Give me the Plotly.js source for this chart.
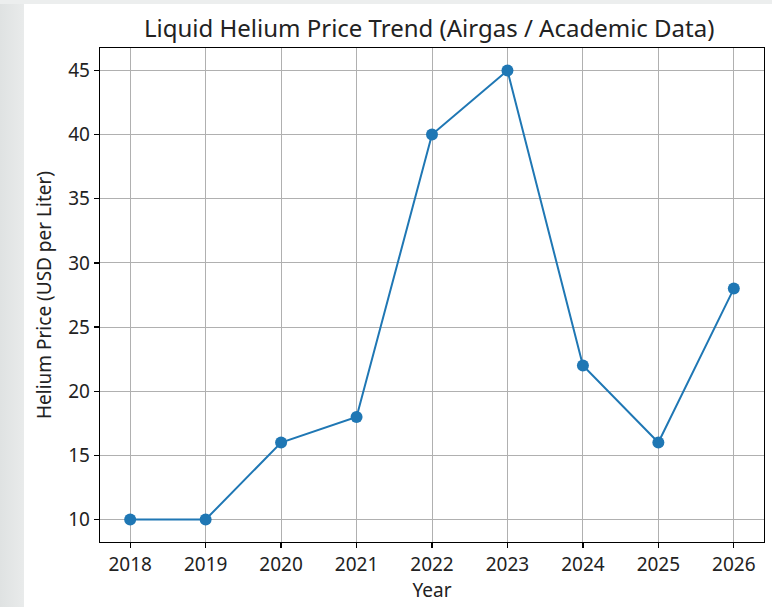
<!DOCTYPE html>
<html>
<head>
<meta charset="utf-8">
<script src="https://cdn.plot.ly/plotly-3.0.1.min.js"></script>
<style>
html,body{margin:0;padding:0;width:772px;height:607px;overflow:hidden;}
body{background:linear-gradient(to right,#dfe2e2 0px,#e9ebeb 24px,#eceeee 100%);}
#top{position:absolute;left:0;top:0;width:772px;height:4px;background:#eceeee;}
#chart{position:absolute;left:24px;top:4px;width:748px;height:603px;background:#fff;}
</style>
</head>
<body>
<div id="top"></div>
<div id="chart"></div>
<script>
const years = [2018, 2019, 2020, 2021, 2022, 2023, 2024, 2025, 2026];
const prices = [10, 10, 16, 18, 40, 45, 22, 16, 28];
const xTickVals = [2018, 2019, 2020, 2021, 2022, 2023, 2024, 2025, 2026];
const yTickVals = [10, 15, 20, 25, 30, 35, 40, 45];

const font = "'Noto Sans', sans-serif";
const trace = {
  x: years, y: prices, type: 'scatter', mode: 'lines+markers',
  line: {color: '#1f77b4', width: 2},
  marker: {color: '#1f77b4', size: 12},
  hoverinfo: 'skip'
};
const axisCommon = {
  showline: true, mirror: true, linecolor: '#000', linewidth: 1.2,
  ticks: 'outside', ticklen: 5, tickwidth: 1.2, tickcolor: '#000',
  showgrid: true, gridcolor: '#b0b0b0', gridwidth: 1,
  zeroline: false, tickfont: {family: font, size: 19, color: '#222'}
};
const layout = {
  width: 748, height: 603,
  margin: {l: 76, r: 8, t: 43.5, b: 64.5},
  paper_bgcolor: '#fff', plot_bgcolor: '#fff',
  showlegend: false,
  title: {text: 'Liquid Helium Price Trend (Airgas / Academic Data)',
    font: {family: font, size: 24, color: '#222'},
    x: 0.5417, xanchor: 'center', y: 0.96, yanchor: 'middle'},
  xaxis: Object.assign({}, axisCommon, {
    range: [2017.6, 2026.4], tickvals: xTickVals, ticktext: xTickVals.map(String),
    title: {text: 'Year', font: {family: font, size: 19, color: '#222'}, standoff: 2}
  }),
  yaxis: Object.assign({}, axisCommon, {
    range: [8.25, 46.75], tickvals: yTickVals, ticktext: yTickVals.map(String),
    title: {text: 'Helium Price (USD per Liter)', font: {family: font, size: 19, color: '#222'}, standoff: 11}
  })
};
Plotly.newPlot('chart', [trace], layout, {staticPlot: true, displayModeBar: false});
</script>
</body>
</html>
